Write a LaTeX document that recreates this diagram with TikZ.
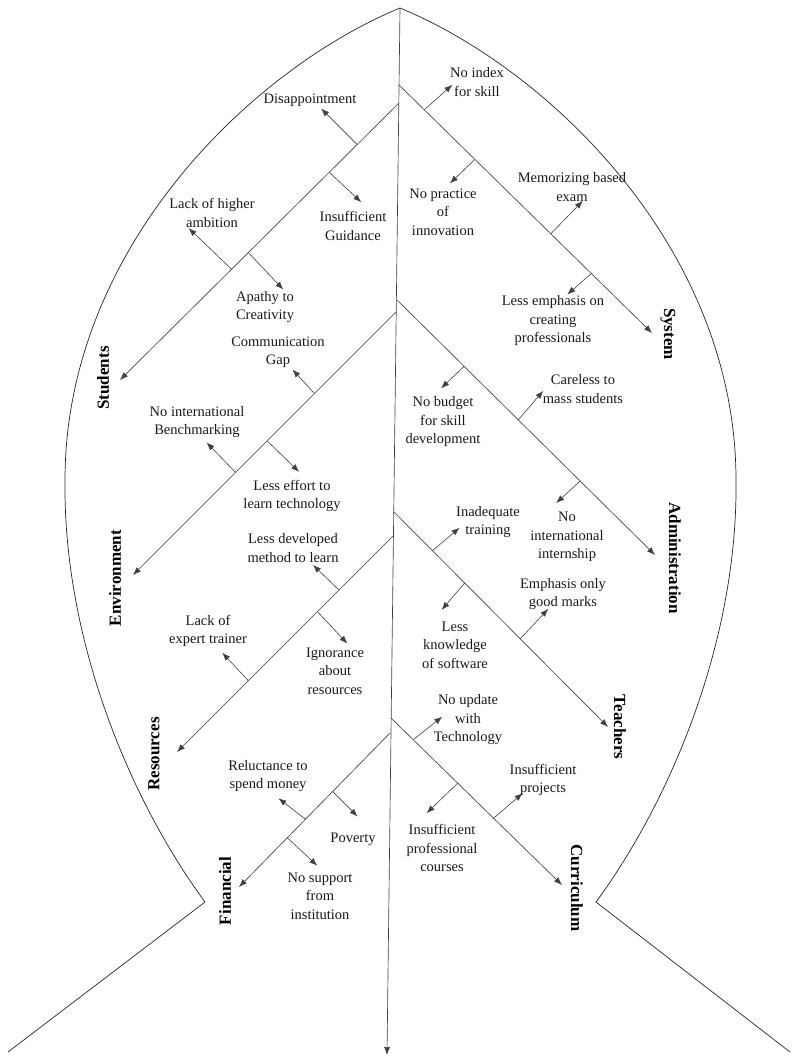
\documentclass[tikz,border=0pt]{standalone}
\usepackage{fontspec}
\setmainfont{Liberation Serif}
\usetikzlibrary{arrows.meta,calc,positioning}
% one small cause arrow: name, branch, position on branch, tip offset
\newcommand{\subcause}[4]{%
\coordinate (#1Root) at ($(#2)!#3!(#2End)$);
\coordinate (#1Tip) at ($(#1Root)+(#4)$);
\draw[cause] (#1Root) -- (#1Tip);}

\begin{document}
\begin{tikzpicture}
[x=1pt,y=-1pt,
fishline/.style={black!85,line width=.7pt},
bone/.style={black!75,line width=.65pt,->,>={Latex[length=8pt,width=6pt]}},
cause/.style={black!75,line width=.6pt,->,>={Latex[length=8pt,width=6pt]}},
txt/.style={align=center,inner sep=0pt,text=black!90,font=\fontsize{14.5}{18.5}\selectfont},
catname/.style={inner sep=0pt,font=\bfseries\fontsize{17}{20}\selectfont}]
\useasboundingbox (0,0) rectangle (792,1058);
%%
\coordinate (head) at (400,8);
\coordinate (lfin) at (205,902);
\coordinate (rfin) at (596,902);
\coordinate (ltail) at (8,1052);
\coordinate (rtail) at (790,1052);
\draw[fishline] (ltail) -- (lfin) .. controls (130,800) and (63,640) .. (65,480)
  .. controls (65,250) and (250,70) .. (head)
  .. controls (550,70) and (736,250) .. (736,480)
  .. controls (738,640) and (671,800) .. (rfin) -- (rtail);
%%
\coordinate (spineEnd) at (387,1055);
\draw[bone] (head) -- (spineEnd);
%% main bones
\coordinate (stu) at (399,103);  \coordinate (stuEnd) at (120,380);
\coordinate (env) at (396,312);  \coordinate (envEnd) at (133,575);
\coordinate (res) at (393,536);  \coordinate (resEnd) at (177,752);
\coordinate (fin) at (390,733);  \coordinate (finEnd) at (239,887);
\coordinate (sys) at (399,85);   \coordinate (sysEnd) at (652,333);
\coordinate (adm) at (397,300);  \coordinate (admEnd) at (655,555);
\coordinate (tea) at (394,512);  \coordinate (teaEnd) at (608,727);
\coordinate (cur) at (391,718);  \coordinate (curEnd) at (562,885);
\draw[bone] (stu) -- (stuEnd);
\draw[bone] (env) -- (envEnd);
\draw[bone] (res) -- (resEnd);
\draw[bone] (fin) -- (finEnd);
\draw[bone] (sys) -- (sysEnd);
\draw[bone] (adm) -- (admEnd);
\draw[bone] (tea) -- (teaEnd);
\draw[bone] (cur) -- (curEnd);
%%
\node[catname,rotate=90] (stuName) at (103,378) {Students};
\node[catname,rotate=90] (envName) at (115,578) {Environment};
\node[catname,rotate=90] (resName) at (154,754) {Resources};
\node[catname,rotate=90] (finName) at (225,891) {Financial};
\node[catname,rotate=-90] (sysName) at (668,334) {System};
\node[catname,rotate=-90] (admName) at (675,558) {Administration};
\node[catname,rotate=-90] (teaName) at (620,727) {Teachers};
\node[catname,rotate=-90] (curName) at (577,888) {Curriculum};
%% students
\subcause{dis}{stu}{.15}{-36,-36}
\subcause{gui}{stu}{.25}{32,30}
\subcause{apa}{stu}{.54}{35,37}
\subcause{amb}{stu}{.6}{-43,-41}
\node[txt] (disTxt) at (310,100) {Disappointment};
\node[txt] (guiTxt) at (353,226) {Insufficient\\Guidance};
\node[txt] (apaTxt) at (265,307) {Apathy to\\Creativity};
\node[txt] (ambTxt) at (212,213) {Lack of higher\\ambition};
%% environment
\subcause{com}{env}{.31}{-22,-24}
\subcause{eff}{env}{.49}{32,31}
\subcause{ben}{env}{.61}{-29,-30}
\node[txt] (comTxt) at (278,352) {Communication\\Gap};
\node[txt] (effTxt) at (292,496) {Less effort to\\learn technology};
\node[txt] (benTxt) at (197,422) {No international\\Benchmarking};
%% resources
\subcause{dev}{res}{.25}{-26,-25}
\subcause{ign}{res}{.35}{30,32}
\subcause{tra}{res}{.67}{-26,-28}
\node[txt] (devTxt) at (293,548) {Less developed\\method to learn};
\node[txt] (ignTxt) at (335,671) {Ignorance\\about\\resources};
\node[txt] (traTxt) at (208,631) {Lack of\\expert trainer};
%% financial
\subcause{pov}{fin}{.38}{25,25}
\subcause{rel}{fin}{.56}{-27,-21}
\subcause{sup}{fin}{.68}{30,28}
\node[txt] (povTxt) at (353,839) {Poverty};
\node[txt] (relTxt) at (268,776) {Reluctance to\\spend money};
\node[txt] (supTxt) at (320,896) {No support\\from\\institution};
%% system
\subcause{idx}{sys}{.1}{28,-25}
\subcause{pra}{sys}{.3}{-25,24}
\subcause{mem}{sys}{.6}{32,-33}
\subcause{emp}{sys}{.76}{-24,21}
\node[txt] (idxTxt) at (477,82) {No index\\for skill};
\node[txt] (praTxt) at (443,212) {No practice\\of\\innovation};
\node[txt] (memTxt) at (572,187) {Memorizing based\\exam};
\node[txt] (empTxt) at (553,321) {Less emphasis on\\creating\\professionals};
%% administration
\subcause{bud}{adm}{.26}{-23,22}
\subcause{car}{adm}{.47}{25,-29}
\subcause{int}{adm}{.71}{-24,22}
\node[txt] (budTxt) at (443,422) {No budget\\for skill\\development};
\node[txt] (carTxt) at (583,389) {Careless to\\mass students};
\node[txt] (intTxt) at (567,537) {No\\international\\internship};
%% teachers
\subcause{ina}{tea}{.18}{27,-23}
\subcause{kno}{tea}{.33}{-23,27}
\subcause{mar}{tea}{.59}{28,-30}
\node[txt] (inaTxt) at (488,522) {Inadequate\\training};
\node[txt] (knoTxt) at (455,645) {Less\\knowledge\\of software};
\node[txt] (marTxt) at (563,594) {Emphasis only\\good marks};
%% curriculum
\subcause{upd}{cur}{.13}{29,-23}
\subcause{cou}{cur}{.39}{-31,30}
\subcause{pro}{cur}{.6}{29,-25}
\node[txt] (updTxt) at (468,720) {No update\\with\\Technology};
\node[txt] (couTxt) at (442,848) {Insufficient\\professional\\courses};
\node[txt] (proTxt) at (543,780) {Insufficient\\projects};
\end{tikzpicture}
\end{document}
